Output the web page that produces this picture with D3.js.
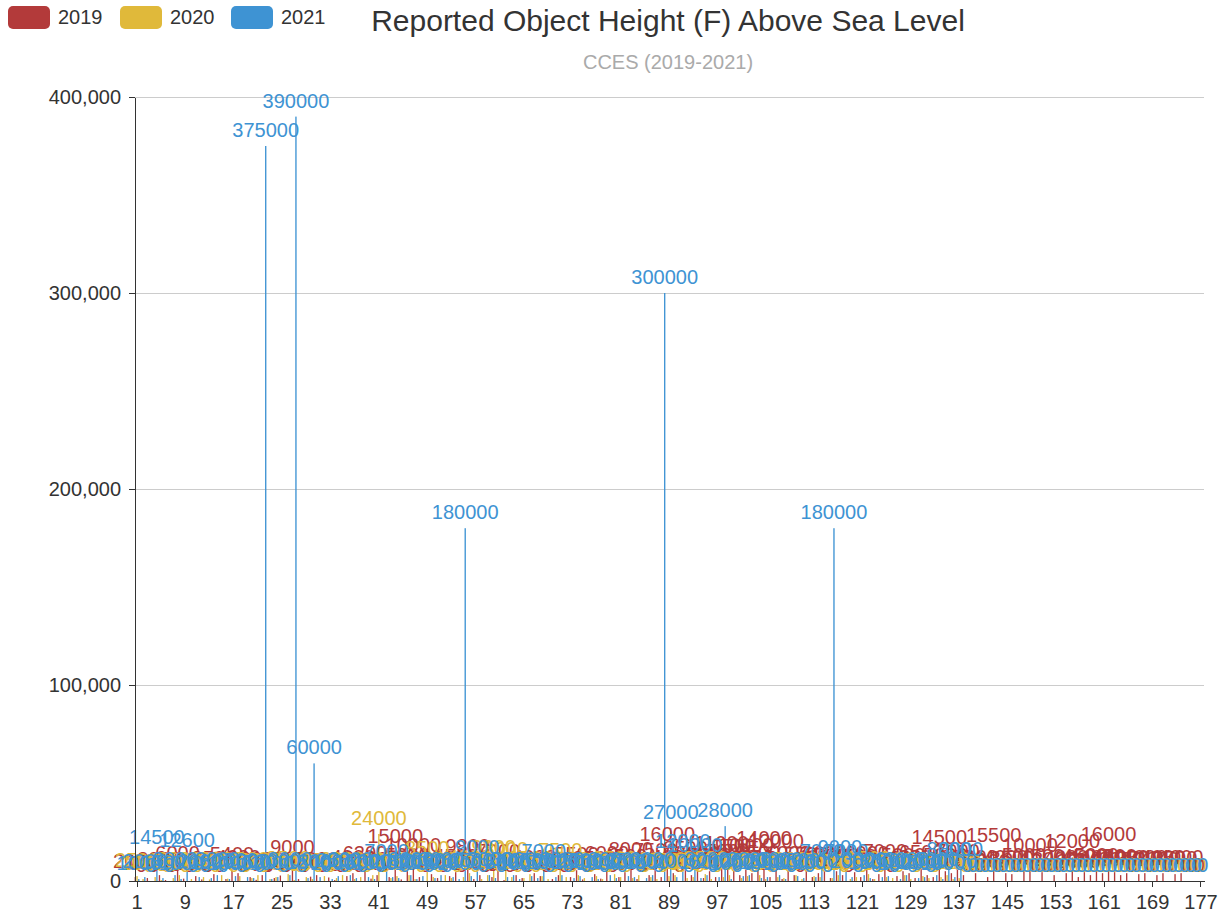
<!DOCTYPE html>
<html lang="en">
<head>
<meta charset="UTF-8">
<title>Reported Object Height (F) Above Sea Level</title>
<script src="https://cdn.jsdelivr.net/npm/d3@7/dist/d3.min.js"></script>
<style>
    body { margin: 0; background: #fff; }
    svg text { font-family: "Helvetica Neue", Helvetica, Arial, "Liberation Sans", sans-serif; }
    .axis path, .axis line { stroke: #333; shape-rendering: crispEdges; }
    .axis text { fill: #333; font-size: 20px; }
    .grid line { stroke: #ccc; shape-rendering: crispEdges; }
</style>
</head>
<body>
<script>
// categories 1..177
const categories = d3.range(1, 178).map(String);
const xTickLabels = ['1', '9', '17', '25', '33', '41', '49', '57', '65', '73', '81', '89', '97',
    '105', '113', '121', '129', '137', '145', '153', '161', '169', '177'];
const yTicks = [0, 100000, 200000, 300000, 400000];

const seriesNames = ['2019', '2020', '2021'];
const seriesColors = ['#b33a3a', '#e0b93a', '#3e93d3'];

const values2019 = [
    2000, 0, 1500, 0, 3000, 500, 0, 6000, 1200, 0,
    2500, 800, 0, 3500, 0, 1000, 5400, 4000, 0, 2000,
    600, 3000, 0, 1500, 2800, 0, 9000, 1000, 0, 2200,
    3000, 0, 1800, 500, 0, 2500, 4000, 0, 6200, 1200,
    3000, 0, 2000, 15000, 800, 5000, 10000, 2000, 0, 3500,
    1500, 0, 2500, 4500, 0, 9800, 1000, 3000, 0, 2000,
    7000, 500, 0, 3000, 1500, 0, 4000, 2500, 0, 1000,
    3000, 0, 2000, 5500, 800, 0, 3500, 1200, 6000, 0,
    2000, 4500, 8000, 1000, 0, 3000, 7500, 2000, 16000, 4000,
    0, 8500, 3000, 6000, 1500, 5000, 2000, 11000, 7000, 9500,
    3000, 10000, 4000, 6500, 14000, 2000, 12000, 1000, 6000, 3000,
    0, 5500, 2000, 4000, 6000, 1500, 5000, 3000, 0, 4500,
    2000, 6000, 1000, 3500, 7000, 0, 2500, 5000, 4000, 1500,
    6500, 3000, 2000, 14500, 5000, 4000, 7000, 3000, 0, 4000,
    0, 2000, 15500, 0, 4000, 3500, 0, 5000, 10000, 0,
    4500, 0, 3000, 0, 4000, 12000, 2000, 4500, 3000, 5000,
    4000, 16000, 4500, 3000, 4000, 0, 3500, 4000, 0, 3000,
    4000, 0, 3500, 4000, 0, 0, 0
];

const values2020 = [
    2500, 1000, 0, 2000, 500, 0, 1500, 3000, 0, 1000,
    0, 2000, 800, 0, 3000, 1200, 0, 2500, 0, 1500,
    3000, 0, 1000, 2000, 0, 3500, 500, 0, 2000, 1000,
    0, 2500, 0, 1500, 3000, 0, 1000, 2000, 0, 3000,
    24000, 0, 1500, 2500, 0, 3000, 1000, 0, 8500, 2000,
    0, 3000, 1500, 0, 2000, 4000, 0, 1000, 3000, 9300,
    0, 8000, 2000, 0, 1500, 3500, 0, 2500, 1000, 0,
    7500, 2000, 0, 3000, 1500, 0, 2500, 1000, 0, 3500,
    2000, 0, 1500, 3000, 0, 2000, 1000, 0, 2500, 3000,
    0, 1500, 2000, 0, 3500, 1000, 0, 2000, 3000, 0,
    1500, 2500, 0, 3000, 1000, 0, 2000, 1500, 0, 3000,
    1000, 0, 2500, 2000, 0, 1500, 3000, 0, 1000, 2000,
    0, 3500, 1000, 0, 2000, 1500, 0, 3000, 1000, 0,
    2500, 1500, 0, 2000, 3000, 1000, 1500, 0, 0, 0,
    0, 0, 0, 0, 0, 0, 0, 0, 0, 0,
    0, 0, 0, 0, 0, 0, 0, 0, 0, 0,
    0, 0, 0, 0, 0, 0, 0, 0, 0, 0,
    0, 0, 0, 0, 0, 0, 0
];

const values2021 = [
    1000, 2000, 0, 14500, 1500, 0, 3000, 1000, 12600, 0,
    2000, 0, 1500, 3000, 0, 1000, 2500, 0, 2000, 1500,
    0, 375000, 1000, 2000, 0, 3000, 390000, 0, 1500, 60000,
    2000, 0, 1000, 2500, 0, 3000, 1500, 0, 2000, 1000,
    0, 7000, 2000, 1500, 0, 3000, 1000, 2500, 0, 1500,
    3000, 0, 2000, 1000, 180000, 2500, 9000, 0, 3000, 1500,
    0, 2000, 3000, 1000, 0, 2500, 1500, 7000, 0, 2000,
    3000, 0, 1500, 2500, 0, 2000, 1000, 0, 3000, 1500,
    0, 2500, 2000, 0, 1500, 3000, 0, 300000, 27000, 2000,
    12000, 0, 10000, 1500, 3000, 0, 2000, 28000, 1000, 0,
    2500, 3000, 0, 1500, 2000, 0, 3000, 1000, 0, 2500,
    1500, 0, 2000, 7000, 0, 180000, 9000, 7000, 2000, 0,
    3000, 1500, 0, 2000, 2500, 0, 1000, 3000, 0, 1500,
    2000, 0, 3000, 1000, 8000, 2000, 8000, 0, 0, 0,
    0, 0, 0, 0, 0, 0, 0, 0, 0, 0,
    0, 0, 0, 0, 0, 0, 0, 0, 0, 0,
    0, 0, 0, 0, 0, 0, 0, 0, 0, 0,
    0, 0, 0, 0, 0, 0, 0
];

const seriesValues = [values2019, values2020, values2021];

// 画布
const width = 1227;
const height = 918;
const margin = {left: 134, right: 23, top: 97, bottom: 37};

const svg = d3.select('body').append('svg')
    .attr('width', width)
    .attr('height', height);

const x = d3.scaleBand()
    .domain(categories)
    .range([margin.left, width - margin.right])
    .paddingInner(0.2)
    .paddingOuter(0.1);

const xSub = d3.scaleBand()
    .domain(seriesNames)
    .range([0, x.bandwidth()])
    .paddingInner(0.2308);

const y = d3.scaleLinear()
    .domain([0, 400000])
    .range([height - margin.bottom, margin.top]);

// 网格线
svg.append('g')
    .attr('class', 'grid')
    .selectAll('line')
    .data(yTicks.filter(d => d > 0))
    .enter()
    .append('line')
    .attr('x1', margin.left)
    .attr('x2', width - margin.right)
    .attr('y1', d => y(d))
    .attr('y2', d => y(d));

// 柱子
seriesNames.forEach(function (name, s) {
    svg.append('g')
        .attr('fill', seriesColors[s])
        .selectAll('rect')
        .data(seriesValues[s])
        .enter()
        .append('rect')
        .attr('x', (d, i) => x(categories[i]) + xSub(name))
        .attr('width', xSub.bandwidth())
        .attr('y', d => y(d))
        .attr('height', d => y(0) - y(d));
});

// 标签
seriesNames.forEach(function (name, s) {
    svg.append('g')
        .attr('fill', seriesColors[s])
        .attr('font-size', 20)
        .attr('text-anchor', 'middle')
        .selectAll('text')
        .data(seriesValues[s])
        .enter()
        .append('text')
        .attr('x', (d, i) => x(categories[i]) + xSub(name) + xSub.bandwidth() / 2)
        .attr('y', d => y(d) - 9)
        .text(d => d);
});

// x轴
svg.append('g')
    .attr('class', 'axis')
    .attr('transform', 'translate(0,' + y(0) + ')')
    .call(d3.axisBottom(x).tickValues(xTickLabels).tickSize(6).tickSizeOuter(0).tickPadding(8));

// y轴
svg.append('g')
    .attr('class', 'axis')
    .attr('transform', 'translate(' + (margin.left + 1) + ',0)')
    .call(d3.axisLeft(y).tickValues(yTicks).tickFormat(d3.format(',')).tickSize(6).tickSizeOuter(0).tickPadding(8));

// 标题
svg.append('text')
    .attr('x', 668)
    .attr('y', 31)
    .attr('text-anchor', 'middle')
    .attr('font-size', 30)
    .attr('fill', '#333')
    .text('Reported Object Height (F) Above Sea Level');

svg.append('text')
    .attr('x', 668)
    .attr('y', 69)
    .attr('text-anchor', 'middle')
    .attr('font-size', 20)
    .attr('fill', '#aaa')
    .text('CCES (2019-2021)');

// 图例
const legendX = [8, 120, 231];
const legend = svg.append('g')
    .selectAll('g')
    .data(seriesNames)
    .enter()
    .append('g')
    .attr('transform', (d, i) => 'translate(' + legendX[i] + ',6)');

legend.append('rect')
    .attr('width', 42)
    .attr('height', 23)
    .attr('rx', 5)
    .attr('fill', (d, i) => seriesColors[i]);

legend.append('text')
    .attr('x', 50)
    .attr('y', 18)
    .attr('font-size', 20)
    .attr('fill', '#333')
    .text(d => d);
</script>
</body>
</html>
